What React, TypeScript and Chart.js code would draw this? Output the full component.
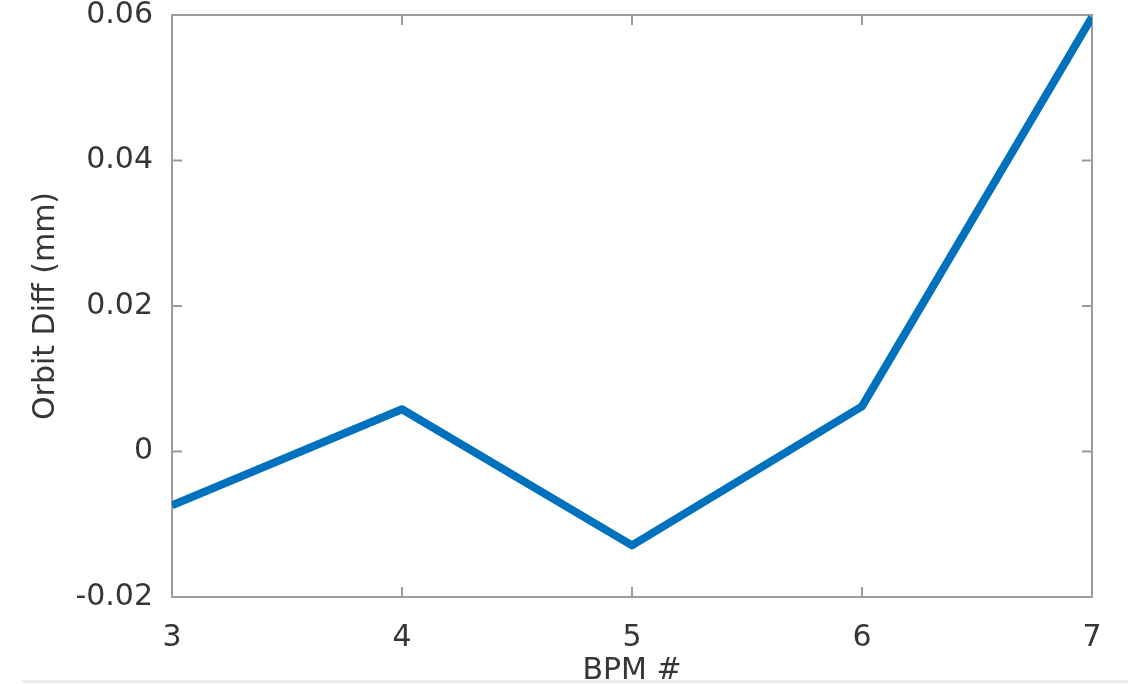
import React, { useEffect, useRef } from "react";
import { Chart, registerables } from "chart.js";

Chart.register(...registerables);

const bpmNumbers = [3, 4, 5, 6, 7];
const orbitDiff = [-0.0074, 0.0058, -0.0129, 0.0062, 0.0597];
const xTickValues = [3, 4, 5, 6, 7];
const xTickLabels = ["3", "4", "5", "6", "7"];
const yTickValues = [-0.02, 0, 0.02, 0.04, 0.06];
const yTickLabels = ["-0.02", "0", "0.02", "0.04", "0.06"];
const xTitle = "BPM #";
const yTitle = "Orbit Diff (mm)";

const FONT = "'DejaVu Sans', 'Liberation Sans', sans-serif";
const TEXT_COLOR = "#363636";
const AXIS_COLOR = "#9c9c9c";

function labelFor(values: number[], labels: string[], v: number): string {
  const i = values.findIndex((x) => Math.abs(x - v) < 1e-9);
  return i >= 0 ? labels[i] : "";
}

const boxPlugin = {
  id: "matlabBox",
  beforeDatasetsDraw(chart: any) {
    const { ctx, chartArea, scales } = chart;
    const { left, top, right, bottom } = chartArea;
    const tl = 10;
    ctx.save();
    ctx.strokeStyle = AXIS_COLOR;
    ctx.lineWidth = 2;
    ctx.strokeRect(left, top, right - left, bottom - top);
    ctx.beginPath();
    scales.x.ticks.forEach((t: any) => {
      const px = scales.x.getPixelForValue(t.value);
      ctx.moveTo(px, bottom);
      ctx.lineTo(px, bottom - tl);
      ctx.moveTo(px, top);
      ctx.lineTo(px, top + tl);
    });
    scales.y.ticks.forEach((t: any) => {
      const py = scales.y.getPixelForValue(t.value);
      ctx.moveTo(left, py);
      ctx.lineTo(left + tl, py);
      ctx.moveTo(right, py);
      ctx.lineTo(right - tl, py);
    });
    ctx.stroke();
    ctx.restore();
  },
};

export default function App() {
  const canvasRef = useRef<HTMLCanvasElement | null>(null);

  useEffect(() => {
    const canvas = canvasRef.current;
    if (!canvas) return;
    const chart = new Chart(canvas, {
      type: "line",
      data: {
        datasets: [
          {
            data: bpmNumbers.map((x, i) => ({ x, y: orbitDiff[i] })),
            borderColor: "#0072BD",
            borderWidth: 8,
            borderJoinStyle: "round",
            borderCapStyle: "butt",
            pointRadius: 0,
            fill: false,
            tension: 0,
            clip: 0,
          },
        ],
      },
      options: {
        animation: false,
        responsive: false,
        maintainAspectRatio: false,
        layout: { padding: { top: 15, right: 36, bottom: 0, left: 0 } },
        plugins: {
          legend: { display: false },
          tooltip: { enabled: false },
        },
        scales: {
          x: {
            type: "linear",
            min: 3,
            max: 7,
            grid: { display: false, drawTicks: false },
            border: { display: false },
            afterBuildTicks: (scale: any) => {
              scale.ticks = xTickValues.map((v) => ({ value: v }));
            },
            afterFit: (scale: any) => {
              scale.height = 87;
              scale.paddingLeft = 0;
              scale.paddingRight = 0;
            },
            ticks: {
              padding: 26,
              color: TEXT_COLOR,
              font: { family: FONT, size: 30, lineHeight: 1 },
              maxRotation: 0,
              callback: (v: any) => labelFor(xTickValues, xTickLabels, Number(v)),
            },
            title: {
              display: true,
              text: xTitle,
              color: TEXT_COLOR,
              font: { family: FONT, size: 30, lineHeight: 1.2 },
              padding: { top: 0, bottom: -5 },
            },
          },
          y: {
            type: "linear",
            min: -0.02,
            max: 0.06,
            grid: { display: false, drawTicks: false },
            border: { display: false },
            afterBuildTicks: (scale: any) => {
              scale.ticks = yTickValues.map((v) => ({ value: v }));
            },
            afterFit: (scale: any) => {
              scale.width = 172;
              scale.paddingTop = 0;
              scale.paddingBottom = 0;
            },
            ticks: {
              padding: 19,
              color: TEXT_COLOR,
              font: { family: FONT, size: 30, lineHeight: 1 },
              callback: (v: any) => labelFor(yTickValues, yTickLabels, Number(v)),
            },
            title: {
              display: true,
              text: yTitle,
              color: TEXT_COLOR,
              font: { family: FONT, size: 30, lineHeight: 1.2 },
              padding: { top: 28, bottom: 0 },
            },
          },
        },
      },
      plugins: [boxPlugin],
    });
    return () => chart.destroy();
  }, []);

  return (
    <div
      style={{
        position: "fixed",
        left: 0,
        top: 0,
        width: 1128,
        height: 684,
        background: "#ffffff",
        overflow: "hidden",
      }}
    >
      <canvas ref={canvasRef} width={1128} height={684} style={{ display: "block" }} />
      <div
        style={{
          position: "absolute",
          left: 22,
          right: 0,
          top: 680,
          height: 3,
          background: "#ececec",
        }}
      />
    </div>
  );
}
